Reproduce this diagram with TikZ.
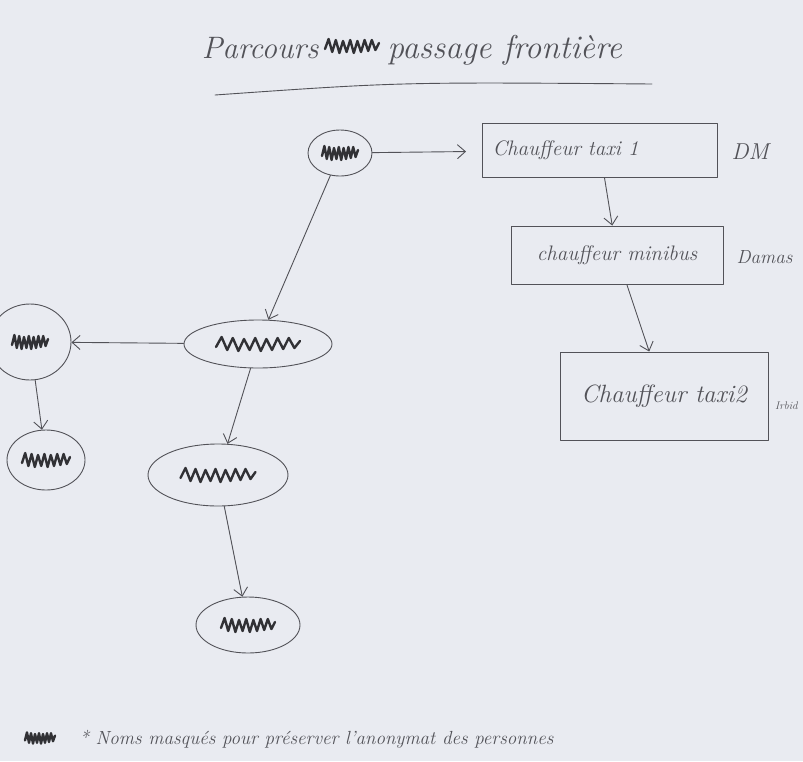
\documentclass[tikz,border=0pt]{standalone}
\usepackage{fontspec}
\usetikzlibrary{shapes.geometric,arrows.meta}
\definecolor{fond}{RGB}{233,235,241}
\definecolor{crayon}{RGB}{82,82,88}
\tikzset{
	nom/.style={draw=crayon, ellipse, inner sep=0pt, line width=0.9pt},
	poste/.style={draw=crayon, rectangle, inner sep=0pt, line width=0.9pt, text=crayon, font=\itshape\fontsize{21}{25}\selectfont},
	lieu/.style={text=crayon, font=\itshape\fontsize{19}{22}\selectfont},
	masque/.pic={\draw[line width=2.4pt, crayon!60!black] (-15,3)--(-13,-7)--(-11,6)--(-9,-6)--(-7,7)--(-5,-5)--(-3,6)--(-1,-6)--(1,7)--(3,-5)--(5,6)--(7,-6)--(9,5)--(11,-6)--(13,4)--(15,-3);}
}
\begin{document}
\begin{tikzpicture}[x=1pt, y=-1pt, line join=round, line cap=round, >={Straight Barb[length=8pt,width=14pt]}]
		\fill[fond] (0,0) rectangle (803,761);
		\useasboundingbox (0,0) rectangle (803,761);
		\clip (0,0) rectangle (803,761);
		% titre
		\node[lieu, font=\itshape\fontsize{31}{36}\selectfont, anchor=east] (titre1) at (322,48) {Parcours};
		\pic[xscale=1.8] at (352,46) {masque};
		\node[lieu, font=\itshape\fontsize{33}{38}\selectfont, anchor=west] (titre2) at (384,50) {passage frontière};
		\draw[crayon, line width=0.9pt] (215,95) .. controls (400,82) .. (652,84);
		% noms masques
		\node[nom, minimum width=64pt, minimum height=46pt] (passeur) at (340,153) {};
		\node[nom, minimum width=148pt, minimum height=48pt] (relais) at (258,344) {};
		\node[nom, minimum width=82pt, minimum height=76pt] (contact) at (30,342) {};
		\node[nom, minimum width=78pt, minimum height=60pt] (guide) at (46,460) {};
		\node[nom, minimum width=140pt, minimum height=62pt] (hote) at (218,475) {};
		\node[nom, minimum width=104pt, minimum height=56pt] (accueil) at (248,625) {};
		\pic[xscale=1.2] at (passeur) {masque};
		\pic[xscale=2.8] at (relais) {masque};
		\pic[xscale=1.2] at (contact) {masque};
		\pic[xscale=1.6] at (guide) {masque};
		\pic[xscale=2.5] at (hote) {masque};
		\pic[xscale=1.8] at (accueil) {masque};
		% chauffeurs
		\node[poste, minimum width=235pt, minimum height=54pt, text width=215pt, align=left] (taxi1) at (600,150) {Chauffeur taxi 1};
		\node[poste, minimum width=212pt, minimum height=58pt] (minibus) at (617,255) {chauffeur minibus};
		\node[poste, font=\itshape\fontsize{25}{29}\selectfont, minimum width=208pt, minimum height=88pt] (taxi2) at (664,396) {Chauffeur taxi2};
		\node[lieu, anchor=west, font=\itshape\fontsize{23}{26}\selectfont] (dm) at (728,152) {DM};
		\node[lieu, anchor=west] (damas) at (733,257) {Damas};
		\node[lieu, anchor=west, inner sep=1pt, font=\itshape\fontsize{11}{13}\selectfont] (irbid) at (774,406) {Irbid};
		% fleches
		\draw[->, crayon, line width=0.9pt, shorten >=16pt] (passeur) -- (taxi1);
		\draw[->, crayon, line width=0.9pt] (taxi1) -- (minibus);
		\draw[->, crayon, line width=0.9pt] (minibus) -- (taxi2);
		\draw[->, crayon, line width=0.9pt] (passeur) -- (relais);
		\draw[->, crayon, line width=0.9pt] (relais) -- (contact);
		\draw[->, crayon, line width=0.9pt] (contact) -- (guide);
		\draw[->, crayon, line width=0.9pt] (relais) -- (hote);
		\draw[->, crayon, line width=0.9pt] (hote) -- (accueil);
		% note
		\pic[xscale=1.0, yscale=0.8] at (40,738) {masque};
		\node[lieu, anchor=west] (note) at (76,739) {* Noms masqués pour préserver l'anonymat des personnes};
\end{tikzpicture}
\end{document}
